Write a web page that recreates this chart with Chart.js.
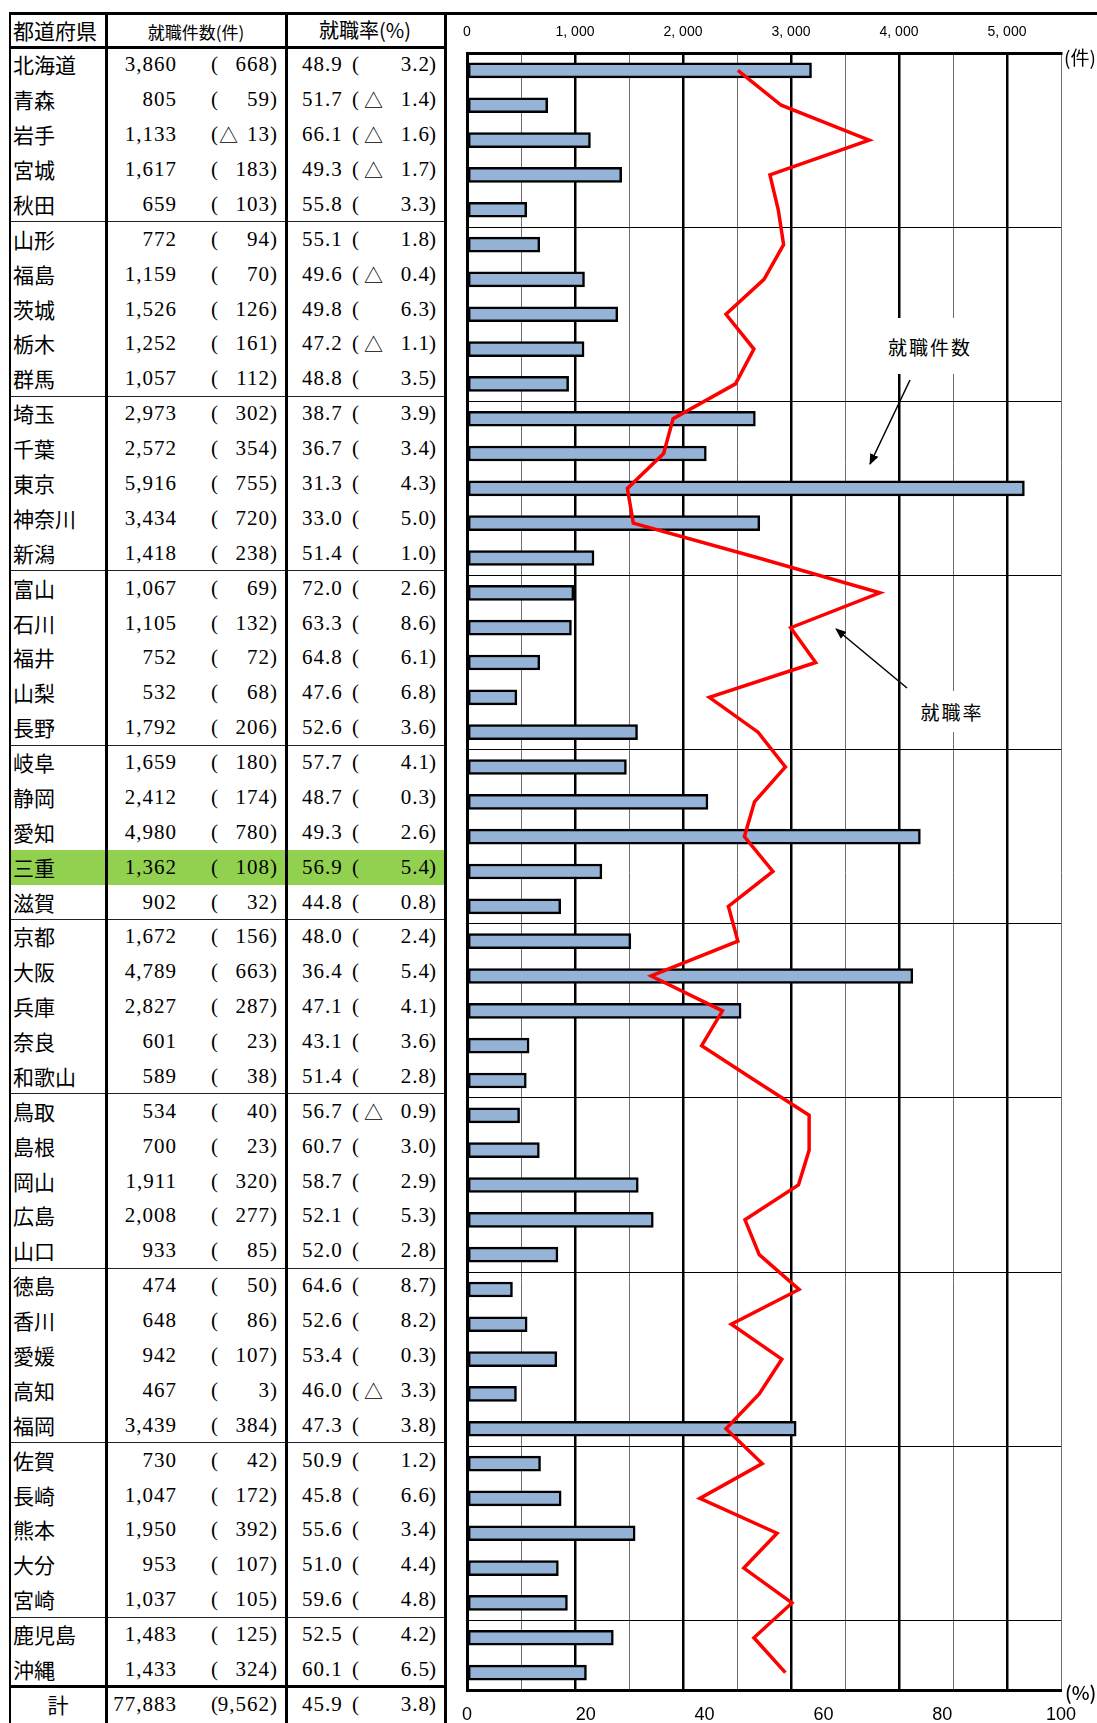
<!DOCTYPE html>
<html lang="ja">
<head>
<meta charset="utf-8">
<title>都道府県別 就職件数・就職率</title>
<script src="https://cdn.jsdelivr.net/npm/chart.js@4.4.0/dist/chart.umd.min.js"></script>
<style>
  body { margin: 0; background: #fff; }
  #page { position: relative; width: 1097px; height: 1723px; overflow: hidden; background: #fff; }
  .t { position: absolute; white-space: nowrap; color: #000; line-height: 1; }
  .jp { font-family: "Noto Sans CJK JP", sans-serif; }
  .num { font-family: "Liberation Serif", "DejaVu Serif", serif; letter-spacing: 1px; }
  .ln { position: absolute; background: #000; }
  .note { position: absolute; background: #fff; display: flex; align-items: center; justify-content: center;
          font-family: "Noto Sans CJK JP", sans-serif; font-size: 19px; letter-spacing: 2px; color: #000; }
</style>
</head>
<body>
<div id="page">
  <div id="table"></div>
  <canvas id="chart" width="651" height="1710" style="position:absolute;left:446px;top:13px"></canvas>
  <div class="note" style="left:872px;top:318px;width:116px;height:56px">就職件数</div>
  <div class="note" style="left:906px;top:691px;width:92px;height:41px">就職率</div>
  <svg width="1097" height="1723" style="position:absolute;left:0;top:0">
    <defs>
      <marker id="ah" markerWidth="11" markerHeight="9" refX="10" refY="4.5" orient="auto" markerUnits="userSpaceOnUse">
        <path d="M0,0 L11,4.5 L0,9 z" fill="#000"/>
      </marker>
    </defs>
    <line x1="910" y1="380" x2="870" y2="464" stroke="#000" stroke-width="1.5" marker-end="url(#ah)"/>
    <line x1="907" y1="688" x2="836" y2="629" stroke="#000" stroke-width="1.5" marker-end="url(#ah)"/>
  </svg>
  <div class="t jp" style="left:1064px;top:47px;font-size:19px">(件)</div>
  <div class="t jp" style="left:1065px;top:1682px;font-size:19px;font-weight:500">(%)</div>
</div>

<script>
// 表の値
const prefectures = ['北海道','青森','岩手','宮城','秋田','山形','福島','茨城','栃木','群馬',
  '埼玉','千葉','東京','神奈川','新潟','富山','石川','福井','山梨','長野',
  '岐阜','静岡','愛知','三重','滋賀','京都','大阪','兵庫','奈良','和歌山',
  '鳥取','島根','岡山','広島','山口','徳島','香川','愛媛','高知','福岡',
  '佐賀','長崎','熊本','大分','宮崎','鹿児島','沖縄'];
const jobCounts = [3860, 805, 1133, 1617, 659, 772, 1159, 1526, 1252, 1057,
  2973, 2572, 5916, 3434, 1418, 1067, 1105, 752, 532, 1792,
  1659, 2412, 4980, 1362, 902, 1672, 4789, 2827, 601, 589,
  534, 700, 1911, 2008, 933, 474, 648, 942, 467, 3439,
  730, 1047, 1950, 953, 1037, 1483, 1433];
const jobCountChange = [668, 59, -13, 183, 103, 94, 70, 126, 161, 112,
  302, 354, 755, 720, 238, 69, 132, 72, 68, 206,
  180, 174, 780, 108, 32, 156, 663, 287, 23, 38,
  40, 23, 320, 277, 85, 50, 86, 107, 3, 384,
  42, 172, 392, 107, 105, 125, 324];
const jobRates = [48.9, 51.7, 66.1, 49.3, 55.8, 55.1, 49.6, 49.8, 47.2, 48.8,
  38.7, 36.7, 31.3, 33.0, 51.4, 72.0, 63.3, 64.8, 47.6, 52.6,
  57.7, 48.7, 49.3, 56.9, 44.8, 48.0, 36.4, 47.1, 43.1, 51.4,
  56.7, 60.7, 58.7, 52.1, 52.0, 64.6, 52.6, 53.4, 46.0, 47.3,
  50.9, 45.8, 55.6, 51.0, 59.6, 52.5, 60.1];
const jobRateChange = [3.2, -1.4, -1.6, -1.7, 3.3, 1.8, -0.4, 6.3, -1.1, 3.5,
  3.9, 3.4, 4.3, 5.0, 1.0, 2.6, 8.6, 6.1, 6.8, 3.6,
  4.1, 0.3, 2.6, 5.4, 0.8, 2.4, 5.4, 4.1, 3.6, 2.8,
  -0.9, 3.0, 2.9, 5.3, 2.8, 8.7, 8.2, 0.3, -3.3, 3.8,
  1.2, 6.6, 3.4, 4.4, 4.8, 4.2, 6.5];
const total = { count: 77883, countChange: 9562, rate: 45.9, rateChange: 3.8 };
const highlight = '三重';

// グラフに描かれている値
const chartCounts = [3190, 747, 1143, 1432, 553, 674, 1088, 1396, 1084, 941,
  2670, 2216, 5161, 2711, 1176, 989, 967, 674, 462, 1579,
  1476, 2231, 4198, 1249, 868, 1517, 4128, 2538, 575, 549,
  487, 670, 1586, 1725, 842, 421, 557, 832, 458, 3048,
  681, 872, 1557, 846, 930, 1355, 1106];
const chartRates = [45.6, 52.9, 67.7, 51.0, 52.4, 53.3, 50.0, 43.6, 48.3, 45.2,
  34.7, 33.1, 27.0, 28.0, 49.1, 69.5, 54.5, 58.7, 40.8, 49.0,
  53.6, 48.4, 46.7, 51.5, 44.0, 45.6, 31.0, 43.0, 39.5, 48.5,
  57.6, 57.6, 55.8, 46.8, 49.2, 55.9, 44.5, 53.0, 49.2, 43.6,
  49.7, 39.2, 52.2, 46.6, 54.7, 48.3, 53.6];
const countTicks = [0, 1000, 2000, 3000, 4000, 5000];

// ---- table ----
const tbl = document.getElementById('table');
const ROW = 34.88, TOP = 47.5;

function txt(text, x, cy, size, cls, align, w) {
  const d = document.createElement('div');
  d.className = 't ' + cls;
  d.textContent = text;
  d.style.fontSize = size + 'px';
  d.style.top = (cy - size / 2) + 'px';
  if (align === 'right') {
    d.style.left = (x - w) + 'px';
    d.style.width = w + 'px';
    d.style.textAlign = 'right';
  } else if (align === 'center') {
    d.style.left = (x - w / 2) + 'px';
    d.style.width = w + 'px';
    d.style.textAlign = 'center';
  } else {
    d.style.left = x + 'px';
  }
  tbl.appendChild(d);
}
function box(x, y, w, h, color) {
  const d = document.createElement('div');
  d.className = 'ln';
  d.style.left = x + 'px'; d.style.top = y + 'px';
  d.style.width = w + 'px'; d.style.height = h + 'px';
  if (color) d.style.background = color;
  tbl.appendChild(d);
}
const fmt = n => n.toLocaleString('en-US');

function rowCells(name, cnt, cch, rate, rch, cy, nameCenter) {
  if (nameCenter) txt(name, 58, cy, 21, 'jp', 'center', 90);
  else txt(name, 13, cy, 21, 'jp');
  txt(fmt(cnt), 177, cy, 21, 'num', 'right', 70);
  txt('(', 211, cy, 21, 'num');
  if (cch < 0) txt('△', 219, cy, 19, 'jp');
  txt(fmt(Math.abs(cch)), 270, cy, 21, 'num', 'right', 60);
  txt(')', 270, cy, 21, 'num');
  txt(rate.toFixed(1), 302, cy, 21, 'num');
  txt('(', 352, cy, 21, 'num');
  if (rch < 0) txt('△', 364, cy, 19, 'jp');
  txt(Math.abs(rch).toFixed(1), 430, cy, 21, 'num', 'right', 50);
  txt(')', 429, cy, 21, 'num');
}

prefectures.forEach((p, i) => {
  if (p === highlight) box(10, TOP + i * ROW, 435, ROW, '#92d050');
});

// header
txt('都道府県', 13, 30, 21, 'jp');
txt('就職件数(件)', 196, 31, 17, 'jp', 'center', 170);
txt('就職率(%)', 365, 30, 20, 'jp', 'center', 150);

prefectures.forEach((p, i) => {
  const cy = TOP + (i + 0.5) * ROW;
  rowCells(p, jobCounts[i], jobCountChange[i], jobRates[i], jobRateChange[i], cy, false);
});
const totTop = TOP + prefectures.length * ROW;
rowCells('計', total.count, total.countChange, total.rate, total.rateChange, (totTop + 1723) / 2, true);

// table lines
box(9, 11.5, 1088, 3);
box(9, 45.5, 437, 3);
for (let k = 5; k < prefectures.length; k += 5) box(10, TOP + k * ROW - 0.5, 435, 1, '#222');
box(9, totTop - 1.5, 437, 3);
box(9, 12, 2, 1711);
box(104.5, 12, 3, 1711);
box(284.5, 12, 3, 1711);
box(443.5, 12, 3, 1711);

// ---- chart ----
const ctx = document.getElementById('chart').getContext('2d');

new Chart(ctx, {
  type: 'bar',
  data: {
    labels: prefectures,
    datasets: [{
      type: 'line',
      label: '就職率',
      data: chartRates,
      indexAxis: 'y',
      xAxisID: 'x2',
      yAxisID: 'y',
      borderColor: '#ff0000',
      borderWidth: 3.5,
      borderJoinStyle: 'miter',
      pointRadius: 0,
      fill: false,
      tension: 0,
      order: 0
    }, {
      type: 'bar',
      label: '就職件数',
      data: chartCounts,
      xAxisID: 'x',
      yAxisID: 'y',
      backgroundColor: '#95b3d7',
      borderColor: '#000',
      borderWidth: 2.5,
      borderSkipped: false,
      barThickness: 15,
      order: 1
    }]
  },
  options: {
    indexAxis: 'y',
    responsive: false,
    animation: false,
    layout: { padding: { left: 21, right: 36, top: 0, bottom: 0 } },
    plugins: { legend: { display: false }, tooltip: { enabled: false } },
    scales: {
      x: {
        type: 'linear', position: 'top', min: 0, max: 5500,
        afterFit: s => { s.height = 40; },
        ticks: {
          stepSize: 500, autoSkip: false, maxRotation: 0, padding: 12, color: '#000',
          font: { family: 'Liberation Sans', size: 14 },
          callback: v => countTicks.includes(v) ? fmt(v).replace(',', ', ') : ''
        },
        grid: {
          drawTicks: false,
          color: c => (c.tick && c.tick.value % 1000 === 0) ? '#000' : '#6e6e6e',
          lineWidth: c => (c.tick && c.tick.value % 1000 === 0) ? 2.5 : 1
        },
        border: { color: '#000', width: 3 }
      },
      x2: {
        type: 'linear', position: 'bottom', min: 0, max: 100,
        afterFit: s => { s.height = 33; },
        ticks: { stepSize: 20, autoSkip: false, maxRotation: 0, padding: 14, color: '#000',
                 font: { family: 'Liberation Sans', size: 18 } },
        grid: { drawOnChartArea: false, drawTicks: false },
        border: { color: '#000', width: 3 }
      },
      y: {
        type: 'category', position: 'left', offset: true,
        afterFit: s => { s.width = 0; },
        ticks: { display: false },
        grid: {
          offset: true, drawTicks: false, lineWidth: 1,
          color: c => (c.index > 0 && c.index % 5 === 0) ? '#000' : 'rgba(0,0,0,0)'
        },
        border: { color: '#000', width: 3 }
      }
    }
  }
});
</script>
</body>
</html>
